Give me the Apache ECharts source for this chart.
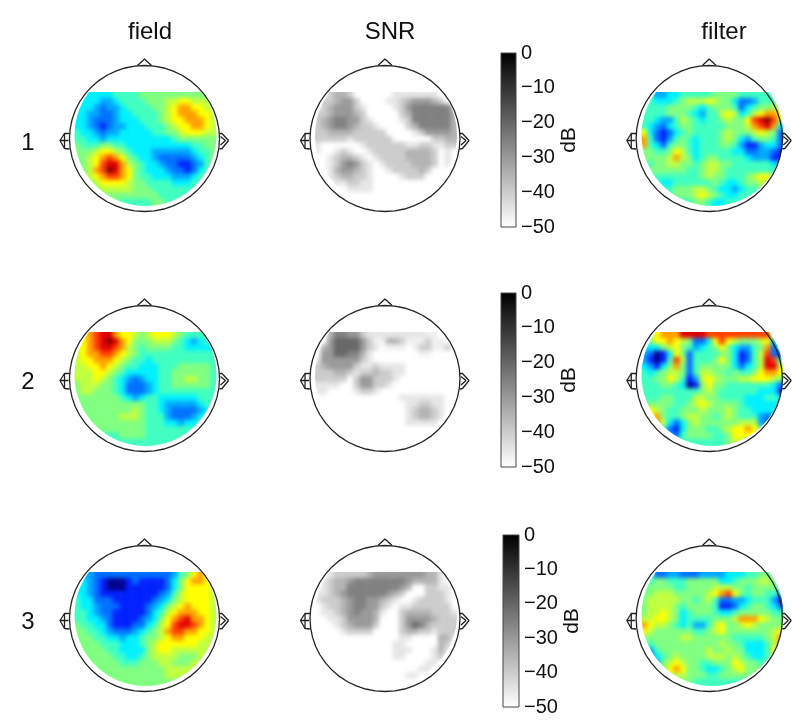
<!DOCTYPE html>
<html><head><meta charset="utf-8">
<style>html,body{margin:0;padding:0;background:#fff}
#stage{position:relative;width:797px;height:728px;overflow:hidden}
#clip,#h,#c{position:absolute;left:0;top:0;width:797px;height:728px}
#h{filter:blur(2.2px)}</style>
<script src="https://cdn.jsdelivr.net/npm/echarts@6/dist/echarts.min.js"></script>
</head><body><div id="stage"><div id="clip"><div id="h"></div></div><div id="c"></div></div>
<script>
const columnTitles = ['field','SNR','filter'];
const rowLabels = ['1','2','3'];
const dbTicks = [0,-10,-20,-30,-40,-50];
const field1 = [
[5,5,5,5,5,5,6,6,6,6,7,7,7,7,7,7,7,7,7,7,7,7],
[5,5,5,5,4,4,5,6,6,6,6,7,7,7,8,8,9,9,8,8,8,7],
[5,5,5,4,3,4,4,5,6,6,6,6,7,7,8,9,10,10,9,9,8,8],
[5,5,4,4,3,3,4,5,5,6,6,6,6,7,8,9,10,10,10,9,9,8],
[5,5,4,3,3,3,4,5,5,5,6,6,6,7,8,9,9,10,10,10,9,8],
[5,5,4,3,2,3,4,4,5,5,5,6,6,6,7,8,9,9,10,10,9,8],
[6,5,5,4,3,4,4,5,5,5,5,5,6,6,7,7,8,9,9,9,8,8],
[6,6,5,5,4,5,5,5,5,5,5,5,5,5,5,6,7,7,7,7,7,7],
[7,6,6,6,7,7,6,6,5,5,5,5,5,5,5,5,5,5,6,6,7,7],
[7,7,7,8,9,9,8,7,6,5,5,5,4,4,4,4,4,4,5,6,6,7],
[7,7,8,9,10,11,10,9,7,6,5,5,4,3,3,3,3,3,4,5,6,7],
[7,7,8,9,11,12,12,10,8,7,6,5,5,4,3,3,2,2,3,4,6,7],
[7,7,8,10,11,13,12,10,9,7,6,5,5,5,4,3,3,2,3,5,6,7],
[7,7,8,9,10,11,11,10,9,7,6,6,5,5,5,4,4,4,5,6,7,7],
[7,7,7,8,9,9,9,9,8,7,7,6,6,6,6,5,5,5,6,6,7,7],
[7,7,7,7,8,8,8,8,8,7,7,7,6,6,6,6,6,6,6,7,7,7],
[7,7,7,7,7,7,7,7,7,7,7,7,7,6,6,6,6,6,6,7,7,7],
[7,7,7,7,7,7,7,6,6,6,6,6,7,7,6,6,6,6,6,6,6,6]];
const field2 = [
[9,9,10,11,12,12,10,9,9,8,7,8,9,9,9,8,7,6,6,6,6,6],
[9,9,10,11,12,13,12,10,9,7,7,7,8,8,8,7,6,5,4,5,6,5],
[9,9,10,11,12,12,11,10,8,7,6,7,7,7,7,6,6,5,5,5,5,5],
[8,9,10,10,11,11,10,9,8,7,6,6,6,6,6,6,6,6,6,6,6,6],
[8,9,9,10,10,10,9,8,7,6,6,5,6,6,6,6,6,6,6,6,6,6],
[8,8,9,9,10,9,8,7,6,6,5,5,5,6,6,6,7,7,7,7,7,6],
[8,8,8,9,9,8,7,6,5,5,5,5,5,6,6,7,7,7,7,7,7,6],
[8,8,8,9,8,7,6,5,4,3,4,5,5,6,6,7,7,8,8,7,7,6],
[7,8,8,8,7,7,6,5,3,3,3,4,5,6,6,7,7,7,7,7,7,6],
[7,8,8,7,7,7,6,5,3,3,3,4,5,6,6,6,6,6,6,6,6,6],
[7,7,7,7,7,7,7,6,5,4,5,6,6,5,5,5,5,5,5,6,6,6],
[7,7,7,7,7,7,7,7,7,7,7,6,6,5,4,4,4,4,4,5,6,6],
[7,7,7,7,7,7,7,7,7,8,7,6,6,5,4,3,3,3,3,4,5,6],
[6,7,7,7,7,7,7,8,8,8,7,6,6,6,4,3,3,3,4,5,6,6],
[6,6,7,7,7,7,7,7,7,7,7,6,6,6,5,5,4,5,5,6,6,6],
[6,6,6,7,7,7,7,7,7,7,7,6,6,6,6,6,6,6,6,6,6,6],
[6,6,6,6,6,6,6,7,7,7,7,6,6,6,6,6,6,6,6,6,6,6],
[6,6,6,6,6,6,6,6,6,6,6,6,6,6,6,6,6,6,6,6,6,6]];
const field3 = [
[4,4,4,3,3,3,3,3,3,3,3,3,3,3,3,4,6,7,9,10,9,8],
[5,5,4,3,2,1,1,1,2,3,2,2,2,2,3,5,7,9,10,10,9,8],
[5,5,4,3,2,1,1,1,2,2,2,2,2,2,3,5,7,9,9,9,9,8],
[5,5,4,3,2,2,2,2,2,2,2,2,2,3,4,6,8,9,9,9,9,8],
[6,5,5,3,3,3,2,2,2,2,2,2,3,4,5,7,8,9,9,9,9,8],
[6,5,5,4,3,3,3,2,2,2,2,3,4,5,7,8,9,10,9,9,9,8],
[6,6,5,4,3,3,2,2,2,2,2,3,5,6,8,9,10,10,10,9,9,8],
[6,6,5,5,4,3,2,2,2,2,3,4,5,7,9,10,11,12,10,10,9,8],
[7,6,6,5,5,3,2,2,2,3,3,5,6,8,9,11,12,12,11,10,9,8],
[7,7,6,6,5,4,3,3,3,4,5,6,7,8,10,11,11,10,10,9,9,8],
[7,7,7,6,6,5,5,4,5,5,6,7,7,8,9,10,10,9,9,9,8,8],
[7,7,7,7,6,6,6,5,5,5,6,7,8,9,9,9,9,9,9,8,8,8],
[7,7,7,7,7,6,6,5,5,5,5,7,8,9,9,8,8,8,8,8,8,8],
[7,7,7,7,7,7,6,6,5,5,6,7,8,8,8,8,7,7,7,8,8,8],
[7,7,7,7,7,7,7,6,6,6,7,7,7,8,8,7,7,7,8,8,8,8],
[7,7,7,7,7,7,7,7,7,7,7,7,7,7,8,8,8,8,8,8,8,8],
[7,7,7,7,7,7,7,7,7,7,7,7,7,7,8,8,8,8,8,8,8,8],
[7,7,7,7,7,7,7,7,7,7,7,7,7,7,7,7,7,7,7,7,7,7]];
const filter1 = [
[6,6,4,4,5,5,6,6,6,6,6,7,7,7,7,6,6,6,6,6,6,6],
[6,6,5,5,5,6,7,8,8,8,9,8,7,7,5,3,3,4,6,6,6,6],
[6,6,6,6,7,7,7,7,6,5,6,7,7,7,6,3,5,6,7,7,8,7],
[6,6,6,6,7,7,7,6,5,4,6,6,8,9,8,5,6,8,9,10,10,9],
[6,6,5,4,4,6,8,7,6,5,6,6,7,8,7,7,9,11,12,13,11,8],
[6,5,4,3,5,6,7,7,6,6,6,6,6,7,7,7,8,10,11,12,10,5],
[9,5,3,2,3,5,6,7,6,6,6,6,7,8,7,7,7,8,9,8,7,3],
[10,6,3,2,4,6,7,6,5,6,6,6,7,8,7,5,4,6,7,7,6,3],
[10,6,5,3,6,7,7,6,5,6,6,6,7,7,6,4,2,2,4,5,5,3],
[7,7,6,6,7,9,8,6,5,6,6,6,6,6,5,5,3,3,4,4,3,2],
[7,7,7,7,8,10,8,7,5,6,7,7,6,6,6,6,5,4,4,4,2,2],
[7,6,7,7,8,8,7,7,6,7,8,8,7,7,6,6,6,6,6,6,5,4],
[6,7,7,7,7,7,7,6,6,7,8,8,7,6,6,6,6,6,6,6,6,6],
[6,6,6,6,6,6,6,6,6,7,8,7,7,6,6,6,7,8,9,9,7,6],
[6,6,6,5,5,6,6,6,6,6,6,7,6,5,5,6,7,7,8,8,7,7],
[6,6,6,6,6,7,7,7,8,8,7,6,5,5,4,5,6,6,7,7,6,6],
[6,6,6,6,6,7,7,7,8,9,8,7,6,5,5,6,6,6,6,6,6,6],
[6,6,6,6,6,6,6,6,7,7,6,5,5,6,6,6,6,6,6,6,6,6]];
const filter2 = [
[8,8,9,10,10,10,12,12,12,12,11,11,11,11,11,11,11,11,11,11,9,8],
[6,7,9,9,10,9,8,7,3,3,5,9,11,9,8,7,7,7,8,9,4,5],
[5,5,5,7,8,9,7,6,4,5,6,7,9,7,5,4,4,6,7,10,3,5],
[4,3,1,2,5,9,7,3,6,6,6,6,7,7,5,2,3,6,8,11,3,2],
[4,2,1,2,6,11,8,3,6,6,6,7,9,7,5,2,3,6,8,12,11,6],
[5,4,2,5,7,10,7,3,6,7,7,7,7,7,5,3,5,6,8,12,12,8],
[6,5,6,7,8,8,7,3,6,8,8,7,7,6,7,6,6,7,9,10,10,9],
[6,6,7,7,9,8,6,2,4,8,9,8,7,7,7,8,8,9,9,9,8,7],
[6,6,6,7,7,6,5,1,2,7,9,7,7,6,6,6,6,6,6,6,5,3],
[6,6,6,6,6,6,6,6,6,7,8,7,6,6,6,6,6,6,5,5,5,2],
[6,6,6,7,7,6,6,6,8,8,7,7,6,6,6,6,5,5,5,6,6,5],
[6,7,7,7,7,6,6,7,8,9,8,7,7,7,7,6,5,5,5,5,5,5],
[7,9,8,7,6,6,7,7,7,8,7,7,7,8,7,6,6,5,5,5,5,5],
[7,9,10,7,6,6,7,8,8,7,7,6,7,8,7,6,6,6,4,3,4,5],
[7,7,10,8,5,3,5,7,8,7,7,7,7,7,7,8,8,8,4,3,5,6],
[6,6,7,6,3,2,5,7,7,7,6,6,7,8,9,9,10,9,7,7,6,6],
[6,6,6,6,4,3,6,7,7,7,7,6,6,7,9,9,9,9,7,7,6,6],
[6,6,6,6,6,6,6,6,6,6,6,6,6,7,8,8,7,6,6,6,6,6]];
const filter3 = [
[6,6,3,3,4,4,3,3,3,4,4,4,4,5,5,5,6,6,7,7,6,6],
[6,6,7,7,6,6,6,7,7,7,7,7,5,5,6,7,7,7,8,8,7,6],
[6,7,7,7,7,6,6,7,7,7,7,8,8,8,7,7,6,7,7,7,7,6],
[7,7,8,8,8,7,7,7,7,7,8,9,10,11,9,7,6,7,7,6,6,4],
[7,8,8,8,8,8,7,7,6,7,8,6,3,3,4,4,5,6,6,6,4,2],
[7,8,8,8,8,7,6,7,7,7,7,6,2,2,3,5,6,7,7,6,5,3],
[7,8,8,9,8,7,5,6,7,7,7,6,5,5,6,7,7,7,7,7,6,6],
[8,8,9,9,8,7,5,6,6,6,6,7,7,7,8,10,10,10,9,8,7,7],
[10,9,8,8,7,6,5,6,4,4,6,8,9,7,7,8,9,8,7,7,7,7],
[9,8,7,7,7,7,7,7,6,6,7,8,9,7,7,7,7,7,7,7,8,9],
[7,7,7,7,7,7,8,8,7,7,7,7,7,7,6,6,6,6,6,7,8,10],
[7,6,7,7,7,7,7,7,7,7,7,7,8,7,7,6,5,5,5,6,8,10],
[5,4,6,7,7,7,7,7,7,7,8,7,7,8,7,7,5,5,5,6,9,9],
[5,3,5,6,7,8,7,7,7,7,8,8,8,7,8,7,6,5,5,6,8,8],
[6,5,4,7,8,9,8,7,7,6,6,7,7,7,9,8,7,7,6,7,7,7],
[6,6,6,7,9,10,9,7,7,6,5,5,6,7,8,9,7,7,7,7,7,7],
[6,6,6,6,8,8,8,7,7,7,6,6,7,7,7,7,7,7,7,6,6,6],
[6,6,6,6,7,7,7,7,6,6,6,6,6,6,6,6,6,6,6,6,6,6]];
const snr1 = [
[-50,-50,-40,-35,-35,-40,-50,-50,-50,-50,-50,-50,-45,-45,-45,-45,-45,-45,-45,-50,-50,-50],
[-50,-40,-40,-35,-30,-30,-40,-50,-50,-50,-50,-45,-45,-40,-35,-30,-30,-30,-35,-40,-50,-50],
[-50,-40,-35,-30,-30,-30,-40,-45,-50,-50,-50,-50,-45,-40,-30,-25,-25,-25,-25,-25,-25,-40],
[-40,-40,-35,-30,-30,-30,-35,-40,-50,-50,-50,-50,-50,-40,-35,-25,-25,-25,-25,-25,-25,-35],
[-40,-35,-30,-25,-25,-30,-30,-40,-45,-50,-50,-50,-50,-45,-40,-25,-25,-25,-25,-25,-25,-35],
[-40,-35,-30,-25,-25,-30,-35,-40,-40,-45,-50,-50,-50,-50,-40,-35,-25,-25,-25,-25,-25,-35],
[-40,-40,-35,-35,-35,-35,-40,-40,-40,-40,-40,-50,-50,-50,-50,-45,-40,-30,-30,-30,-30,-35],
[-40,-40,-40,-40,-40,-45,-40,-40,-40,-40,-40,-40,-50,-50,-50,-50,-50,-50,-40,-40,-35,-35],
[-45,-50,-50,-50,-50,-50,-50,-45,-40,-40,-40,-40,-40,-40,-45,-45,-40,-40,-45,-45,-40,-40],
[-45,-50,-50,-45,-40,-45,-50,-50,-45,-40,-40,-40,-40,-40,-35,-35,-35,-35,-40,-50,-45,-50],
[-50,-50,-45,-40,-35,-35,-40,-45,-50,-45,-40,-40,-40,-40,-35,-35,-35,-35,-40,-50,-45,-50],
[-50,-50,-45,-40,-30,-25,-30,-40,-45,-50,-45,-40,-40,-40,-40,-35,-35,-35,-40,-50,-45,-50],
[-50,-50,-45,-35,-30,-30,-35,-40,-45,-50,-50,-45,-40,-40,-40,-40,-35,-40,-50,-50,-50,-50],
[-50,-50,-45,-40,-35,-35,-40,-40,-45,-50,-50,-50,-50,-45,-40,-40,-40,-50,-50,-50,-50,-50],
[-50,-50,-50,-45,-45,-40,-40,-45,-45,-50,-50,-50,-50,-50,-50,-50,-50,-50,-50,-50,-50,-50],
[-50,-50,-50,-50,-50,-45,-45,-45,-45,-50,-50,-50,-50,-50,-50,-50,-50,-50,-50,-50,-50,-50]];
const snr2 = [
[-50,-50,-35,-25,-25,-30,-30,-40,-45,-45,-45,-45,-45,-45,-45,-45,-45,-47,-47,-50,-50,-50],
[-50,-50,-30,-20,-20,-20,-20,-30,-40,-47,-47,-35,-35,-40,-47,-47,-47,-40,-47,-47,-50,-50],
[-50,-35,-30,-20,-20,-20,-20,-30,-40,-45,-50,-47,-47,-47,-50,-47,-40,-40,-47,-47,-40,-50],
[-50,-30,-30,-20,-20,-25,-25,-35,-45,-50,-50,-50,-50,-50,-50,-50,-47,-47,-50,-50,-50,-50],
[-45,-30,-30,-30,-30,-30,-30,-40,-45,-50,-50,-50,-50,-50,-50,-50,-50,-50,-50,-50,-50,-50],
[-40,-35,-30,-30,-30,-30,-40,-45,-45,-40,-45,-45,-45,-45,-50,-50,-50,-50,-50,-50,-50,-50],
[-40,-40,-40,-35,-35,-40,-45,-40,-40,-35,-40,-40,-45,-45,-50,-50,-50,-50,-50,-50,-50,-50],
[-40,-40,-40,-40,-40,-50,-40,-30,-30,-40,-40,-40,-45,-50,-50,-50,-50,-50,-50,-50,-50,-50],
[-45,-45,-45,-45,-50,-50,-40,-30,-30,-40,-40,-45,-50,-50,-50,-50,-50,-50,-50,-50,-50,-50],
[-45,-45,-50,-50,-50,-50,-45,-40,-40,-45,-50,-50,-50,-50,-50,-50,-50,-50,-50,-50,-50,-50],
[-50,-50,-50,-50,-50,-50,-50,-50,-50,-50,-50,-50,-50,-45,-45,-45,-45,-45,-45,-45,-50,-50],
[-50,-50,-50,-50,-50,-50,-50,-50,-50,-50,-50,-50,-50,-50,-45,-45,-40,-40,-45,-45,-50,-50],
[-50,-50,-50,-50,-50,-50,-50,-50,-50,-50,-50,-50,-50,-50,-45,-40,-35,-35,-40,-45,-50,-50],
[-50,-50,-50,-50,-50,-50,-50,-50,-50,-50,-50,-50,-50,-50,-45,-40,-35,-35,-40,-45,-50,-50],
[-50,-50,-50,-50,-50,-50,-50,-50,-50,-50,-50,-50,-50,-50,-45,-45,-45,-45,-45,-50,-50,-50]];
const snr3 = [
[-50,-50,-45,-40,-40,-40,-40,-40,-35,-30,-30,-30,-30,-30,-30,-30,-30,-35,-35,-45,-50,-50],
[-50,-45,-40,-35,-35,-30,-25,-25,-25,-25,-25,-25,-25,-25,-30,-35,-35,-35,-35,-45,-50,-50],
[-50,-45,-40,-35,-35,-25,-25,-25,-25,-25,-25,-25,-25,-30,-35,-50,-50,-40,-40,-45,-45,-50],
[-45,-45,-40,-35,-30,-25,-25,-25,-25,-25,-25,-30,-35,-40,-50,-50,-50,-40,-40,-40,-45,-50],
[-45,-40,-40,-40,-35,-30,-25,-25,-30,-30,-35,-40,-45,-50,-50,-45,-40,-40,-40,-40,-45,-50],
[-50,-45,-40,-40,-35,-30,-25,-25,-30,-30,-40,-45,-50,-45,-45,-40,-40,-40,-40,-40,-40,-50],
[-50,-45,-45,-40,-35,-30,-25,-30,-30,-35,-45,-50,-50,-40,-35,-35,-35,-35,-40,-40,-40,-45],
[-50,-50,-45,-45,-40,-30,-30,-30,-30,-35,-50,-50,-50,-40,-30,-30,-30,-30,-35,-40,-40,-40],
[-50,-50,-50,-45,-40,-35,-30,-30,-30,-40,-50,-50,-50,-40,-30,-20,-25,-35,-40,-40,-40,-40],
[-50,-50,-50,-50,-45,-40,-40,-40,-40,-50,-50,-50,-50,-40,-35,-35,-40,-40,-45,-40,-40,-40],
[-50,-50,-50,-50,-50,-50,-50,-50,-50,-50,-50,-50,-50,-45,-45,-50,-50,-50,-50,-35,-35,-45],
[-50,-50,-50,-50,-50,-50,-50,-50,-50,-50,-50,-50,-45,-45,-50,-50,-50,-50,-50,-35,-40,-50],
[-50,-50,-50,-50,-50,-50,-50,-50,-50,-50,-50,-50,-45,-45,-45,-50,-50,-50,-45,-35,-45,-50],
[-50,-50,-50,-50,-50,-50,-50,-50,-50,-50,-50,-50,-45,-45,-50,-50,-50,-50,-45,-40,-50,-50],
[-50,-50,-50,-50,-50,-50,-50,-50,-50,-50,-50,-50,-50,-50,-50,-50,-50,-45,-45,-50,-50,-50],
[-50,-50,-50,-50,-50,-50,-50,-50,-50,-50,-50,-50,-50,-50,-50,-50,-45,-45,-50,-50,-50,-50],
[-50,-50,-50,-50,-50,-50,-50,-50,-50,-50,-50,-50,-50,-50,-45,-45,-50,-50,-50,-50,-50,-50]];

const panels = [[field1,snr1,filter1],[field2,snr2,filter2],[field3,snr3,filter3]];
const colX = [144.5,385,711.5], rowY = [138.5,378.5,618.5];
const jet = ['#00008f','#0020ff','#0070ff','#00a8ff','#00f0ff','#40ffc0','#80ff80','#c0ff40','#ffff00','#ffa000','#ff4000','#e00000','#800000'];
const CELL_W = 6.5, CELL_H = 113/18, COLS = 22, ROWS = 18, PAD = 2;
const ink = '#222', font = '"Liberation Sans", Arial, sans-serif';

function cells(m,blank){
  const out=[];
  const cl=(v,n)=>Math.max(0,Math.min(n-1,v));
  for(let i=-PAD;i<ROWS+PAD;i++)for(let j=-PAD;j<COLS+PAD;j++){
    const row=m[cl(i,ROWS)];
    out.push([j+PAD,i+PAD,row?row[cl(j,COLS)]:blank]);
  }
  return out;
}
const outline = {
  circle: Array.from({length:49},(_,k)=>{const t=k/48*2*Math.PI;return [75*Math.sin(t),73*Math.cos(t)];}),
  nose: [[-7,73],[0,79.5],[7,73]],
  earL: [[-75,5],[-80,5],[-84.5,-2],[-80,-10],[-75,-10.5]],
  earLi: [[-80,5],[-80,-10]],
  earLm: [[-84.5,-2],[-76,-2]],
  earR: [[75,5],[77.5,5],[84,-2],[77.5,-10],[75,-10.5]],
  earRi: [[76,2],[81,-2],[76,-6.5]]
};

/* layer of value maps */
const hg=[],hx=[],hy=[],hs=[],jetIdx=[],grayIdx=[];
const catJ=[...Array(COLS+2*PAD).keys()],catI=[...Array(ROWS+2*PAD).keys()];
let clipPath='';
panels.forEach((row,r)=>row.forEach((m,c)=>{
  const g=hg.length,cx=colX[c],cy=rowY[r];
  hg.push({left:cx-70.5-PAD*CELL_W,top:cy-46.5-PAD*CELL_H,width:CELL_W*(COLS+2*PAD),height:CELL_H*(ROWS+2*PAD),show:false});
  hx.push({type:'category',gridIndex:g,data:catJ,show:false});
  hy.push({type:'category',gridIndex:g,data:catI,inverse:true,show:false});
  (c===1?grayIdx:jetIdx).push(hs.length);
  hs.push({type:'heatmap',xAxisIndex:g,yAxisIndex:g,data:cells(m,-50),silent:true,progressive:0,itemStyle:{borderWidth:0}});
  const R=71,mx=cx+1,top=cy-46.5,dx=Math.sqrt(R*R-43*43);
  clipPath+=`M${mx-dx} ${top}L${mx+dx} ${top}A${R} ${R} 0 1 1 ${mx-dx} ${top}Z`;
}));
document.getElementById('clip').style.clipPath=`path('${clipPath}')`;
echarts.init(document.getElementById('h'),null,{renderer:'canvas'}).setOption({animation:false,grid:hg,xAxis:hx,yAxis:hy,series:hs,
  visualMap:[
    {show:false,min:1,max:13,seriesIndex:jetIdx,inRange:{color:jet}},
    {show:false,min:-50,max:0,seriesIndex:grayIdx,inRange:{color:['#ffffff','#000000']}}
  ]});

/* layer of outlines, colour bars and text */
const grid=[],xAxis=[],yAxis=[],series=[];
rowY.forEach(cy=>colX.forEach(cx=>{
  const g=grid.length;
  grid.push({left:cx-90,top:cy-90,width:180,height:180,show:false});
  xAxis.push({type:'value',gridIndex:g,min:-90,max:90,show:false});
  yAxis.push({type:'value',gridIndex:g,min:-90,max:90,show:false});
  Object.values(outline).forEach(pts=>series.push({type:'line',xAxisIndex:g,yAxisIndex:g,data:pts,showSymbol:false,silent:true,clip:false,
    lineStyle:{color:ink,width:1.3},z:5}));
}));
const bars=[[501,53,15,174],[501,293,15,174],[503,535,16,172]];
bars.forEach(b=>{
  const g=grid.length;
  grid.push({left:b[0],top:b[1],width:b[2],height:b[3],show:true,borderColor:'#444',borderWidth:1,backgroundColor:'transparent',z:4});
  xAxis.push({type:'category',gridIndex:g,data:['dB'],show:false});
  yAxis.push({type:'value',gridIndex:g,position:'right',min:-50,max:0,interval:10,
    name:'dB',nameLocation:'middle',nameRotate:90,nameGap:42,nameTextStyle:{fontFamily:font,fontSize:21,color:'#111'},
    axisLine:{show:false},splitLine:{show:false},
    axisTick:{inside:true,length:2,lineStyle:{color:'#444'}},
    axisLabel:{margin:5,fontFamily:font,fontSize:20,color:'#111',showMinLabel:true,showMaxLabel:true,padding:[4,0,0,0],
      formatter:v=>dbTicks.includes(v)?String(v).replace('-','\u2212'):''}});
  series.push({type:'bar',xAxisIndex:g,yAxisIndex:g,data:[-50],barWidth:'100%',silent:true,
    itemStyle:{color:new echarts.graphic.LinearGradient(0,0,0,1,[{offset:0,color:'#000'},{offset:1,color:'#fff'}])}});
});
const text=(t,x,y,size)=>({text:t,left:x,top:y,textAlign:'center',
  textStyle:{fontFamily:font,fontSize:size,fontWeight:'normal',color:'#111'}});
const title=[...columnTitles.map((t,c)=>text(t,[145,385,719][c],15,24)),
             ...rowLabels.map((t,r)=>text(t,23,[126,365,605][r],24))];
echarts.init(document.getElementById('c'),null,{renderer:'canvas'}).setOption({animation:false,backgroundColor:'transparent',title,grid,xAxis,yAxis,series,tooltip:{show:false}});
</script></body></html>
